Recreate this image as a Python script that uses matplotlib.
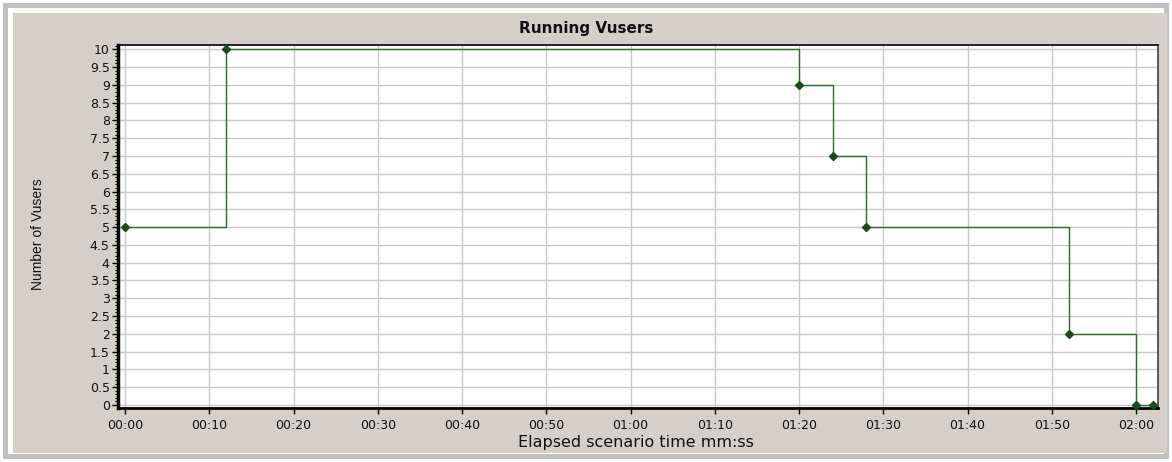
import matplotlib.pyplot as plt
from matplotlib.patches import Rectangle
from matplotlib.ticker import MultipleLocator, FuncFormatter

plt.rcParams["font.family"] = ["DejaVu Sans"]

# data: elapsed seconds and running vusers
elapsed_sec = [0, 12, 80, 84, 88, 112, 120, 122]
vusers = [5, 10, 9, 7, 5, 2, 0, 0]

fig = plt.figure(figsize=(11.72, 4.62), dpi=100)
fig.patch.set_facecolor("white")

# window frame: grey band, white gap, grey panel
W, H = 1172, 462
fig.patches.append(Rectangle((3 / W, 3 / H), 1166 / W, 456 / H, transform=fig.transFigure,
                             facecolor="#c0c0c0", edgecolor="none", zorder=-3))
fig.patches.append(Rectangle((8 / W, 8 / H), 1156 / W, 446 / H, transform=fig.transFigure,
                             facecolor="white", edgecolor="none", zorder=-2))
fig.patches.append(Rectangle((13 / W, 9 / H), 1154 / W, 440 / H, transform=fig.transFigure,
                             facecolor="#d4d0c8", edgecolor="none", zorder=-1))

ax = fig.add_axes([118 / W, 54 / H, 1040 / W, 363 / H])
ax.set_facecolor("white")

ax.plot(elapsed_sec, vusers, drawstyle="steps-post", color="#2e6b2e", linewidth=1.0)
ax.plot(elapsed_sec, vusers, linestyle="none", marker="D", markersize=4.5,
        color="#1c4a1c", clip_on=False, zorder=5)

ax.set_xlim(-0.83, 122.6)
ax.set_ylim(-0.085, 10.12)

ax.xaxis.set_major_locator(MultipleLocator(10))
ax.xaxis.set_major_formatter(FuncFormatter(lambda v, p: f"{int(v) // 60:02d}:{int(v) % 60:02d}"))
ax.yaxis.set_major_locator(MultipleLocator(0.5))
ax.yaxis.set_minor_locator(MultipleLocator(0.1))
ax.yaxis.set_major_formatter(FuncFormatter(lambda v, p: f"{v:g}"))

ax.grid(True, which="major", color="#c8c8c8", linewidth=1.0)
ax.set_axisbelow(True)

ax.tick_params(axis="both", which="major", labelsize=9, color="black", length=4, width=1,
               labelcolor="#111111")
ax.tick_params(axis="y", which="minor", length=2, width=0.8)
ax.tick_params(axis="x", pad=4)
ax.tick_params(axis="y", pad=2)

ax.spines["left"].set_linewidth(2.5)
ax.spines["bottom"].set_linewidth(2.0)
ax.spines["top"].set_linewidth(1.2)
ax.spines["right"].set_linewidth(1.2)
ax.spines["right"].set_color("#404040")

# title, axis labels placed in figure pixels like the original window
fig.text(586 / W, 1 - 29 / H, "Running Vusers", fontsize=11, weight="bold",
         ha="center", va="center", color="#111111")
fig.text(636 / W, 1 - 442 / H, "Elapsed scenario time mm:ss", fontsize=11.5,
         ha="center", va="center", color="#111111")
fig.text(38 / W, 1 - 234 / H, "Number of Vusers", fontsize=10, rotation=90,
         ha="center", va="center", family="Liberation Sans", color="#111111")

plt.savefig("out.png", dpi=100, facecolor=fig.get_facecolor())
plt.close()
